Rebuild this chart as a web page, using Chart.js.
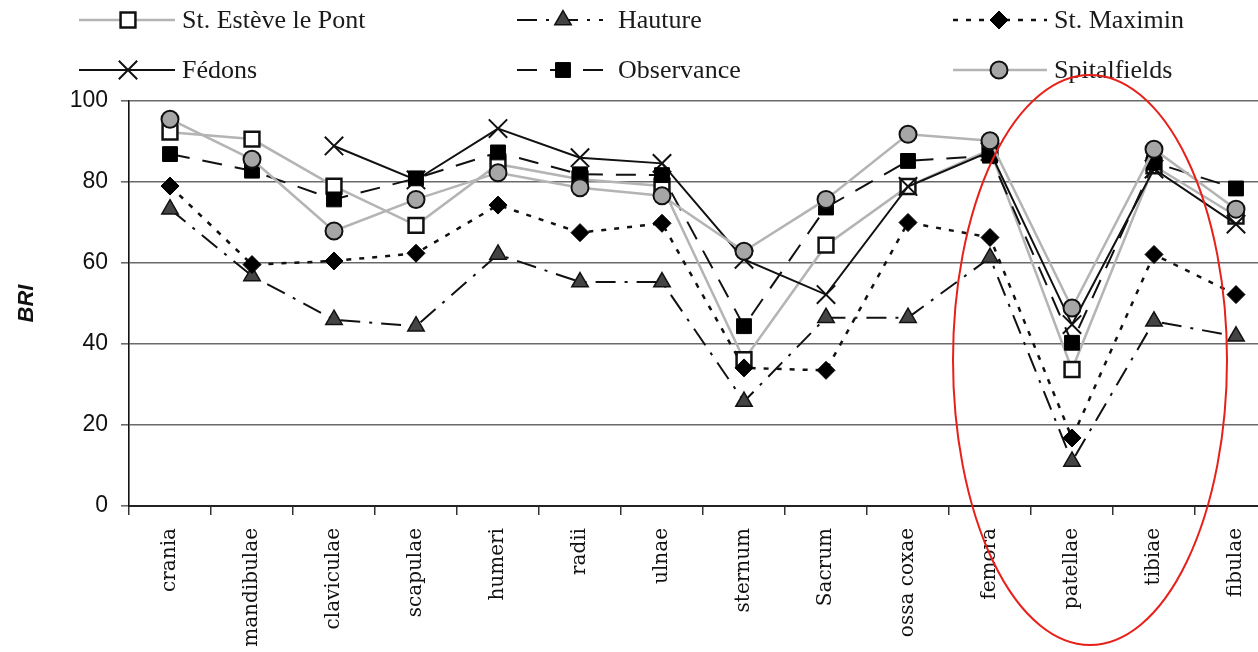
<!DOCTYPE html>
<html lang="fr">
<head>
    <meta charset="UTF-8">
    <title>BRI</title>
    <style>
        html, body {
            margin: 0;
            padding: 0;
            background: #ffffff;
            overflow: hidden;
        }
        .frame {
            width: 1258px;
            height: 652px;
            overflow: hidden;
        }
        .wrap {
            width: 1292px;
            height: 652px;
        }
    </style>
</head>
<body>

<div class="frame">
    <div class="wrap">
        <canvas id="briChart"></canvas>
    </div>
</div>

<script src="https://cdn.jsdelivr.net/npm/chart.js"></script>
<script>
    // Données
    const bones = ['crania', 'mandibulae', 'claviculae', 'scapulae', 'humeri', 'radii', 'ulnae',
        'sternum', 'Sacrum', 'ossa coxae', 'femora', 'patellae', 'tibiae', 'fibulae'];
    const yTicks = [0, 20, 40, 60, 80, 100];

    const esteve = [92.3, 90.6, 79.0, 69.3, 84.4, 80.7, 79.0, 36.1, 64.4, 78.9, 88.0, 33.7, 84.0, 71.6];
    const hauture = [73.3, 56.8, 46.0, 44.4, 62.1, 55.3, 55.3, 25.8, 46.5, 46.5, 61.3, 11.0, 45.6, 41.9];
    const maximin = [79.0, 59.6, 60.5, 62.4, 74.3, 67.5, 69.8, 34.1, 33.5, 70.0, 66.3, 16.8, 62.1, 52.2];
    const fedons = [null, null, 88.9, 80.5, 93.2, 86.0, 84.6, 60.9, 52.2, 78.9, 87.5, 44.8, 83.2, 69.6];
    const observance = [86.9, 82.8, 75.7, 80.9, 87.3, 81.9, 81.7, 44.4, 73.7, 85.2, 86.5, 40.3, 84.8, 78.4];
    const spitalfields = [95.5, 85.6, 67.9, 75.7, 82.3, 78.6, 76.6, 62.9, 75.7, 91.8, 90.2, 48.9, 88.1, 73.3];

    const datasets = [
        {
            label: 'St. Estève le Pont', data: esteve, order: 5,
            borderColor: '#b4b4b4', borderWidth: 2.5,
            pointStyle: 'rect', pointRadius: 10.5, pointBackgroundColor: '#ffffff',
            pointBorderColor: '#111111', pointBorderWidth: 2.5
        },
        {
            label: 'Hauture', data: hauture, order: 4,
            borderColor: '#111111', borderWidth: 2, borderDash: [20, 9, 3, 9],
            pointStyle: 'triangle', pointRadius: 9.5, pointBackgroundColor: '#444444',
            pointBorderColor: '#111111', pointBorderWidth: 1.5
        },
        {
            label: 'St. Maximin', data: maximin, order: 3,
            borderColor: '#111111', borderWidth: 2.5, borderDash: [5, 8],
            pointStyle: 'rectRot', pointRadius: 9, pointBackgroundColor: '#000000',
            pointBorderColor: '#000000', pointBorderWidth: 1
        },
        {
            label: 'Fédons', data: fedons, order: 2,
            borderColor: '#111111', borderWidth: 2,
            pointStyle: 'crossRot', pointRadius: 13, pointBackgroundColor: '#111111',
            pointBorderColor: '#111111', pointBorderWidth: 2
        },
        {
            label: 'Observance', data: observance, order: 1,
            borderColor: '#111111', borderWidth: 2, borderDash: [20, 13],
            pointStyle: 'rect', pointRadius: 10.5, pointBackgroundColor: '#000000',
            pointBorderColor: '#000000', pointBorderWidth: 1
        },
        {
            label: 'Spitalfields', data: spitalfields, order: 0,
            borderColor: '#b4b4b4', borderWidth: 2.5,
            pointStyle: 'circle', pointRadius: 8.5, pointBackgroundColor: '#a6a6a6',
            pointBorderColor: '#111111', pointBorderWidth: 2
        }
    ];
    datasets.forEach(function (ds) {
        ds.fill = false;
        ds.tension = 0;
        ds.spanGaps = false;
        ds.pointHoverRadius = ds.pointRadius;
    });

    // Légende sur 3 colonnes, dessinée à la main
    const legendSlots = [
        {x1: 79, x2: 175, mx: 128, tx: 182, y: 20},
        {x1: 517, x2: 603, mx: 563, tx: 618, y: 20},
        {x1: 953, x2: 1047, mx: 999, tx: 1054, y: 20},
        {x1: 79, x2: 175, mx: 128, tx: 182, y: 70},
        {x1: 517, x2: 603, mx: 563, tx: 618, y: 70},
        {x1: 953, x2: 1047, mx: 999, tx: 1054, y: 70}
    ];
    const legendOrder = [0, 1, 2, 3, 4, 5];

    const legendPlugin = {
        id: 'legendGrid',
        afterDraw: function (chart) {
            const ctx = chart.ctx;
            ctx.save();
            legendOrder.forEach(function (dsIndex, i) {
                const ds = chart.data.datasets[dsIndex];
                const s = legendSlots[i];
                ctx.setLineDash(ds.borderDash || []);
                ctx.lineWidth = ds.borderWidth;
                ctx.strokeStyle = ds.borderColor;
                ctx.beginPath();
                ctx.moveTo(s.x1, s.y);
                ctx.lineTo(s.x2, s.y);
                ctx.stroke();
                ctx.setLineDash([]);
                ctx.fillStyle = ds.pointBackgroundColor;
                ctx.strokeStyle = ds.pointBorderColor;
                ctx.lineWidth = ds.pointBorderWidth;
                Chart.helpers.drawPoint(ctx, {
                    pointStyle: ds.pointStyle,
                    radius: ds.pointRadius,
                    rotation: 0,
                    borderWidth: ds.pointBorderWidth
                }, s.mx, s.y);
                ctx.fillStyle = '#1a1a1a';
                ctx.font = '26px "Liberation Serif"';
                ctx.textBaseline = 'middle';
                ctx.textAlign = 'left';
                ctx.fillText(ds.label, s.tx, s.y + 1);
            });
            ctx.restore();
        }
    };

    // ellipse rouge autour de femora / patellae / tibiae
    const ellipsePlugin = {
        id: 'redEllipse',
        afterDraw: function (chart) {
            const ctx = chart.ctx;
            const cx = chart.scales.x.getPixelForValue(11) + 18;
            ctx.save();
            ctx.strokeStyle = '#e8201a';
            ctx.lineWidth = 2;
            ctx.beginPath();
            ctx.ellipse(cx, 360, 137, 285, 0, 0, Math.PI * 2);
            ctx.stroke();
            ctx.restore();
        }
    };

    new Chart(document.getElementById('briChart'), {
        type: 'line',
        data: {
            labels: bones,
            datasets: datasets
        },
        options: {
            responsive: true,
            maintainAspectRatio: false,
            animation: false,
            layout: {
                padding: {top: 101, left: 0, right: 0, bottom: 0}
            },
            plugins: {
                legend: {display: false},
                tooltip: {enabled: false}
            },
            scales: {
                x: {
                    offset: true,
                    grid: {
                        offset: true,
                        drawOnChartArea: false,
                        drawTicks: true,
                        tickLength: 9,
                        color: '#333333',
                        lineWidth: 1.5
                    },
                    border: {color: '#222222', width: 2},
                    ticks: {
                        autoSkip: false,
                        minRotation: 90,
                        maxRotation: 90,
                        padding: 13,
                        color: '#111111',
                        font: {family: '"DejaVu Serif"', size: 20}
                    },
                    afterFit: function (scale) {
                        scale.height = 146;
                    }
                },
                y: {
                    min: 0,
                    max: 100,
                    afterBuildTicks: function (scale) {
                        scale.ticks = yTicks.map(function (v) { return {value: v}; });
                    },
                    grid: {
                        color: '#6a6a6a',
                        lineWidth: 1.6,
                        tickLength: 8
                    },
                    border: {color: '#111111', width: 1.6},
                    ticks: {
                        padding: 13,
                        color: '#111111',
                        font: {family: '"Liberation Sans"', size: 23}
                    },
                    title: {
                        display: true,
                        text: 'BRI',
                        color: '#111111',
                        padding: {top: 14, bottom: 0},
                        font: {family: '"Liberation Sans"', size: 22, weight: 'bold', style: 'italic'}
                    },
                    afterFit: function (scale) {
                        scale.width = 129;
                    }
                }
            }
        },
        plugins: [legendPlugin, ellipsePlugin]
    });
</script>

</body>
</html>
